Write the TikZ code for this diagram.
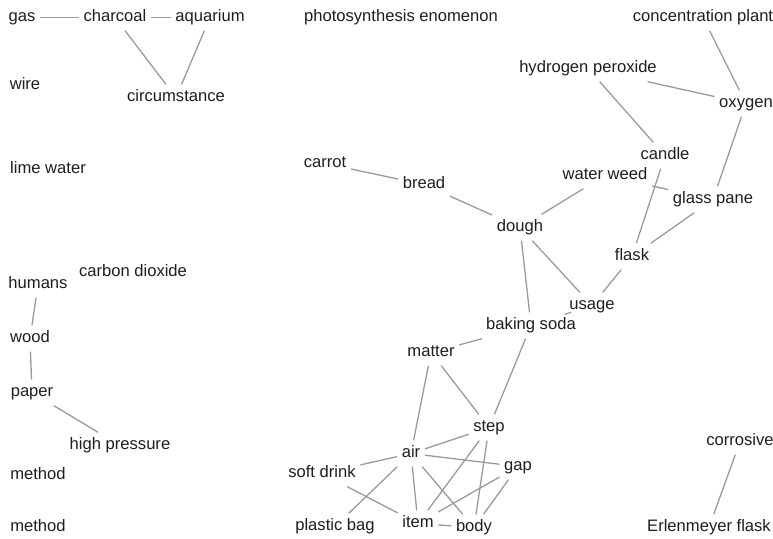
\documentclass[tikz,border=0pt]{standalone}
\usepackage{fontspec}
\setmainfont{Liberation Sans}
\usepackage{xcolor}
\definecolor{edgegray}{HTML}{9A9A9A}
\definecolor{wordgray}{HTML}{1E1E1E}

\begin{document}
\begin{tikzpicture}[x=1pt,y=-1pt]
\tikzset{
    w/.style={%
        text=wordgray,
        font=\fontsize{16.6}{19}\selectfont,
        inner xsep=4.5pt, inner ysep=6pt,
        text height=11pt, text depth=3pt,
        yshift=-1.5pt
        },
    e/.style={%
        draw=edgegray, line width=1.3pt
        },
}
\useasboundingbox (0,0) rectangle (773,538);
%%%LEFT COLUMN
\node[w] (gas) at (22,16) {gas};
\node[w] (charcoal) at (115,16) {charcoal};
\node[w] (aquarium) at (210,16) {aquarium};
\node[w] (wire) at (25,84) {wire};
\node[w] (circumstance) at (176,96) {circumstance};
\node[w] (limewater) at (48,168) {lime water};
\node[w] (humans) at (38,283) {humans};
\node[w] (carbondiox) at (133,271) {carbon dioxide};
\node[w] (wood) at (30,337) {wood};
\node[w] (paper) at (32,391) {paper};
\node[w] (highpressure) at (120,444) {high pressure};
\node[w] (method1) at (38,474) {method};
\node[w] (method2) at (38,526) {method};
%%%UPPER RIGHT
\node[w] (photo) at (401,16) {photosynthesis enomenon};
\node[w] (concplant) at (703,16) {concentration plant};
\node[w] (hydroperox) at (588,67) {hydrogen peroxide};
\node[w] (oxygen) at (746,102) {oxygen};
\node[w] (candle) at (665,154) {candle};
\node[w] (waterweed) at (605,174) {water weed};
\node[w] (glasspane) at (713,198) {glass pane};
\node[w] (carrot) at (325,162) {carrot};
\node[w] (bread) at (424,183) {bread};
\node[w] (dough) at (520,226) {dough};
\node[w] (flask) at (632,255) {flask};
\node[w] (usage) at (592,304) {usage};
\node[w] (bakingsoda) at (531,324) {baking soda};
%%%LOWER CLUSTER
\node[w] (matter) at (431,351) {matter};
\node[w] (step) at (489,426) {step};
\node[w] (air) at (411,452) {air};
\node[w] (gap) at (518,465) {gap};
\node[w] (softdrink) at (322,472) {soft drink};
\node[w] (plasticbag) at (335,525) {plastic bag};
\node[w] (item) at (418,522) {item};
\node[w] (body) at (474,526) {body};
\node[w] (corrosive) at (740,440) {corrosive};
\node[w] (erlenmeyer) at (709,526) {Erlenmeyer flask};
%%%RELATIONS
\draw[e] (gas) -- (charcoal);
\draw[e] (charcoal) -- (aquarium);
\draw[e] (charcoal) -- (circumstance);
\draw[e] (aquarium) -- (circumstance);
\draw[e] (humans) -- (wood);
\draw[e] (wood) -- (paper);
\draw[e] (paper) -- (highpressure);
\draw[e] (concplant) -- (oxygen);
\draw[e] (hydroperox) -- (oxygen);
\draw[e] (hydroperox) -- (candle);
\draw[e] (oxygen) -- (glasspane);
\draw[e] (candle) -- (flask);
\draw[e] (waterweed) -- (glasspane);
\draw[e] (glasspane) -- (flask);
\draw[e] (waterweed) -- (dough);
\draw[e] (carrot) -- (bread);
\draw[e] (bread) -- (dough);
\draw[e] (dough) -- (bakingsoda);
\draw[e] (dough) -- (usage);
\draw[e] (flask) -- (usage);
\draw[e] (usage) -- (bakingsoda);
\draw[e] (bakingsoda) -- (matter);
\draw[e] (bakingsoda) -- (step);
\draw[e] (matter) -- (air);
\draw[e] (matter) -- (step);
\draw[e] (step) -- (air);
\draw[e] (step) -- (item);
\draw[e] (step) -- (body);
\draw[e] (air) -- (softdrink);
\draw[e] (air) -- (gap);
\draw[e] (air) -- (plasticbag);
\draw[e] (air) -- (item);
\draw[e] (air) -- (body);
\draw[e] (softdrink) -- (item);
\draw[e] (gap) -- (item);
\draw[e] (gap) -- (body);
\draw[e] (item) -- (body);
\draw[e] (corrosive) -- (erlenmeyer);
\end{tikzpicture}
\end{document}
